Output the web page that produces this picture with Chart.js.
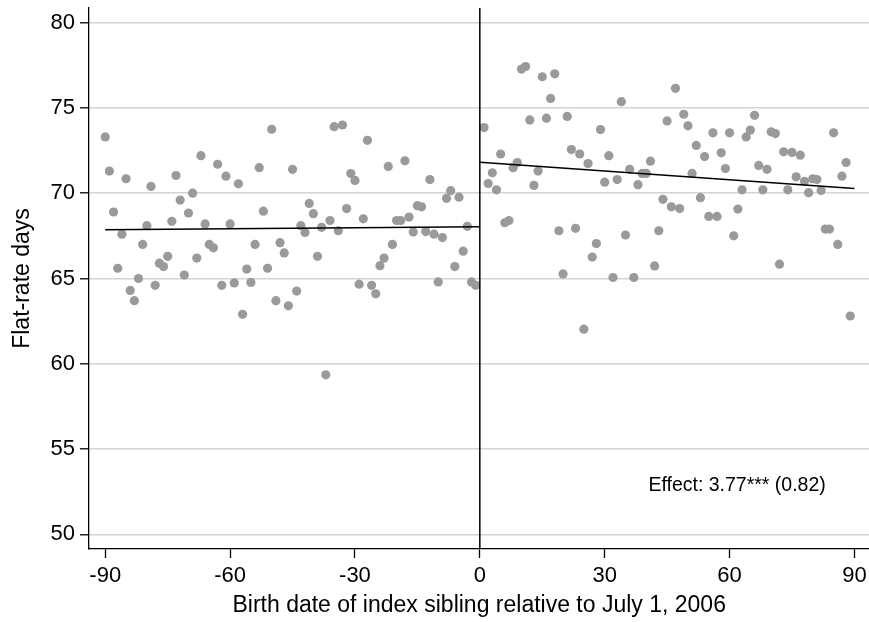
<!DOCTYPE html>
<html>
<head>
<meta charset="utf-8">
<script src="https://cdn.jsdelivr.net/npm/chart.js@4.4.1/dist/chart.umd.min.js"></script>
<style>
html,body{margin:0;padding:0;background:#fff;overflow:hidden;}
#wrap{width:869px;height:622px;overflow:hidden;}
</style>
</head>
<body>
<div id="wrap"><canvas id="c" width="874" height="622"></canvas></div>
<script>
// ---- data ----
const leftDays = [-90,-89,-88,-87,-86,-85,-84,-83,-82,-81,-80,-79,-78,-77,-76,-75,-74,-73,-72,-71,-70,-69,-68,-67,-66,-65,-64,-63,-62,-61,-60,-59,-58,-57,-56,-55,-54,-53,-52,-51,-50,-49,-48,-47,-46,-45,-44,-43,-42,-41,-40,-39,-38,-37,-36,-35,-34,-33,-32,-31,-30,-29,-28,-27,-26,-25,-24,-23,-22,-21,-20,-19,-18,-17,-16,-15,-14,-13,-12,-11,-10,-9,-8,-7,-6,-5,-4,-3,-2,-1];
const leftValues = [73.3,71.3,68.9,65.6,67.6,70.85,64.3,63.7,65.0,67.0,68.1,70.4,64.6,65.9,65.7,66.3,68.35,71.04,69.6,65.2,68.84,70.0,66.2,72.2,68.2,67.0,66.8,71.7,64.6,71.0,68.2,64.74,70.55,62.9,65.55,64.77,67.0,71.5,68.95,65.6,73.75,63.7,67.1,66.5,63.4,71.4,64.26,68.1,67.7,69.4,68.8,66.3,68.0,59.35,68.4,73.9,67.8,74.0,69.1,71.15,70.75,64.67,68.5,73.1,64.6,64.1,65.75,66.2,71.57,67.0,68.4,68.4,71.9,68.6,67.73,69.27,69.2,67.75,70.8,67.6,64.8,67.4,69.7,70.15,65.7,69.77,66.6,68.06,64.8,64.6];
const rightDays = [1,2,3,4,5,6,7,8,9,10,11,12,13,14,15,16,17,18,19,20,21,22,23,24,25,26,27,28,29,30,31,32,33,34,35,36,37,38,39,40,41,42,43,44,45,46,47,48,49,50,51,52,53,54,55,56,57,58,59,60,61,62,63,64,65,66,67,68,69,70,71,72,73,74,75,76,77,78,79,80,81,82,83,84,85,86,87,88,89];
const rightValues = [73.85,70.57,71.2,70.2,72.3,68.27,68.4,71.5,71.8,77.28,77.43,74.3,70.46,71.3,76.83,74.4,75.56,77.0,67.8,65.27,74.5,72.56,67.94,72.3,62.03,71.74,66.26,67.05,73.73,70.65,72.2,65.06,70.8,75.37,67.55,71.4,65.06,70.5,71.16,71.16,71.88,65.74,67.8,69.64,74.24,69.2,76.15,69.1,74.63,73.95,71.16,72.8,69.74,72.15,68.64,73.54,68.64,72.37,71.45,73.54,67.5,69.07,70.2,73.3,73.7,74.57,71.63,70.2,71.4,73.6,73.5,65.84,72.43,70.2,72.39,70.96,72.23,70.7,70.03,70.85,70.8,70.16,67.9,67.9,73.54,67.0,71.0,71.8,62.8];
const fitLeftX = [-90, 0];
const fitLeftY = [67.86, 68.04];
const fitRightX = [0, 90];
const fitRightY = [71.82, 70.27];
const cutoff = 0;
const xTicks = [-90,-60,-30,0,30,60,90];
const yTicks = [50,55,60,65,70,75,80];
const effectText = 'Effect: 3.77*** (0.82)';
const effectPos = {x: 40.5, y: 52.83};
const xTitle = 'Birth date of index sibling relative to July 1, 2006';
const yTitle = 'Flat-rate days';

const FONT = "'Liberation Sans', Arial, Helvetica, sans-serif";
const pts = (xs, ys) => xs.map((x, i) => ({x: x, y: ys[i]}));

const cutoffPlugin = {
  id: 'cutoff',
  afterDatasetsDraw(chart) {
    const {ctx, chartArea, scales} = chart;
    const px = scales.x.getPixelForValue(cutoff);
    ctx.save();
    ctx.strokeStyle = '#000';
    ctx.lineWidth = 1.5;
    ctx.beginPath();
    ctx.moveTo(px, chartArea.top);
    ctx.lineTo(px, chartArea.bottom);
    ctx.stroke();
    ctx.fillStyle = '#000';
    ctx.font = '19.5px ' + FONT;
    ctx.textAlign = 'left';
    ctx.textBaseline = 'middle';
    ctx.fillText(effectText, scales.x.getPixelForValue(effectPos.x), scales.y.getPixelForValue(effectPos.y));
    ctx.restore();
  }
};

const pointStyle = {
  pointRadius: 4.6,
  pointBackgroundColor: '#9a9a9a',
  pointBorderWidth: 0,
  pointHoverRadius: 4.6,
  showLine: false
};
const lineStyle = {
  showLine: true,
  borderColor: '#000',
  borderWidth: 1.5,
  pointRadius: 0,
  fill: false
};

new Chart(document.getElementById('c'), {
  type: 'scatter',
  data: {
    datasets: [
      Object.assign({label: 'fitL', data: pts(fitLeftX, fitLeftY)}, lineStyle),
      Object.assign({label: 'fitR', data: pts(fitRightX, fitRightY)}, lineStyle),
      Object.assign({label: 'left', data: pts(leftDays, leftValues)}, pointStyle),
      Object.assign({label: 'right', data: pts(rightDays, rightValues)}, pointStyle)
    ]
  },
  options: {
    responsive: false,
    animation: false,
    devicePixelRatio: 1,
    layout: {padding: {top: 8, right: 0, left: 0, bottom: 0}},
    plugins: {legend: {display: false}, tooltip: {enabled: false}},
    scales: {
      x: {
        type: 'linear',
        min: -93.9,
        max: 93.6,
        afterBuildTicks: s => { s.ticks = xTicks.map(v => ({value: v})); },
        afterFit: s => { s.height = 73; s.paddingLeft = 0; s.paddingRight = 0; },
        grid: {drawOnChartArea: false, drawTicks: true, tickLength: 9, tickColor: '#000', tickWidth: 1.3},
        border: {display: true, color: '#000', width: 1.3},
        ticks: {color: '#000', font: {family: FONT, size: 22}, padding: 5, maxRotation: 0, autoSkip: false},
        title: {display: true, text: xTitle, color: '#000', font: {family: FONT, size: 23}, padding: {top: 0, bottom: 3}}
      },
      y: {
        type: 'linear',
        min: 49.14,
        max: 80.86,
        afterBuildTicks: s => { s.ticks = yTicks.map(v => ({value: v})); },
        afterFit: s => { s.width = 89; s.paddingTop = 0; s.paddingBottom = 0; },
        grid: {color: '#d4d4d4', lineWidth: 1.6, drawTicks: true, tickLength: 9, tickColor: '#000', tickWidth: 1.3},
        border: {display: true, color: '#000', width: 1.3},
        ticks: {color: '#000', font: {family: FONT, size: 22}, padding: 5},
        title: {display: true, text: yTitle, color: '#000', font: {family: FONT, size: 23}, padding: {top: 9, bottom: 0}}
      }
    }
  },
  plugins: [cutoffPlugin]
});
</script>
</body>
</html>
